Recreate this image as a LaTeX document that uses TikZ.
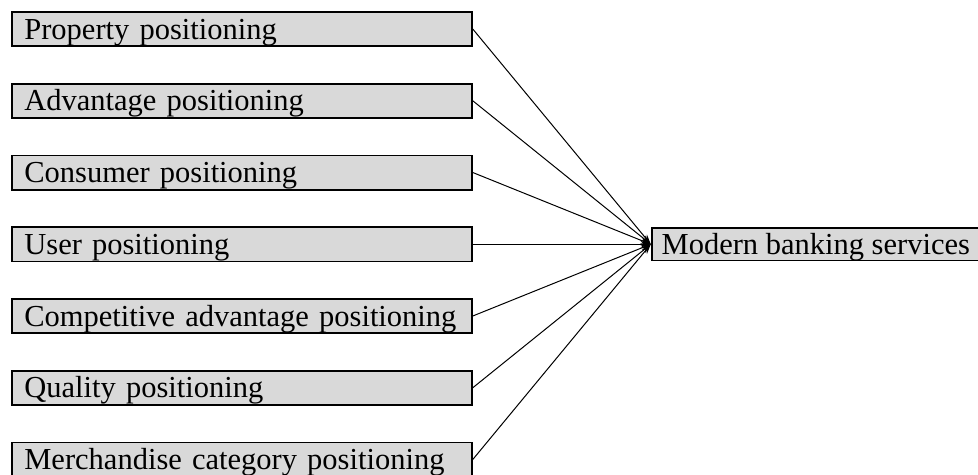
\documentclass[tikz,border=0pt]{standalone}
\usepackage{fontspec}
\setmainfont{Liberation Serif}
\usetikzlibrary{positioning,arrows.meta}

\begin{document}
\begin{tikzpicture}
  [x=0.4pt,y=-0.4pt,
   posbox/.style={draw,fill=black!15,line width=0.7pt,text width=174pt,
     inner xsep=5pt,inner ysep=1pt,minimum height=13.7pt,align=left,
     text height=8pt,text depth=0pt,font=\fontsize{12.2}{14}\selectfont},
   goalbox/.style={draw,fill=black!15,line width=0.7pt,minimum width=130pt,
     inner ysep=1pt,minimum height=12.9pt,inner xsep=4pt,
     text height=8pt,text depth=0pt,font=\fontsize{12.2}{14}\selectfont},
   node distance=14.3pt]
  \useasboundingbox (0,0) rectangle (978,474);
  \node[posbox,anchor=west] (prop) at (11,29) {Property positioning};
  \node[posbox,below=of prop] (adv) {Advantage positioning};
  \node[posbox,below=of adv] (cons) {Consumer positioning};
  \node[posbox,below=of cons] (user) {User positioning};
  \node[posbox,below=of user] (comp) {Competitive advantage positioning};
  \node[posbox,below=of comp] (qual) {Quality positioning};
  \node[posbox,below=of qual] (merch) {Merchandise category positioning};
  \node[goalbox,right=71.2pt of user] (bank) {Modern banking services};
  \foreach \s in {prop,adv,cons,user,comp,qual,merch}
    \draw[-{Stealth[length=4pt,width=2.6pt]},line width=0.4pt] (\s.east) -- (bank.west);
\end{tikzpicture}
\end{document}
